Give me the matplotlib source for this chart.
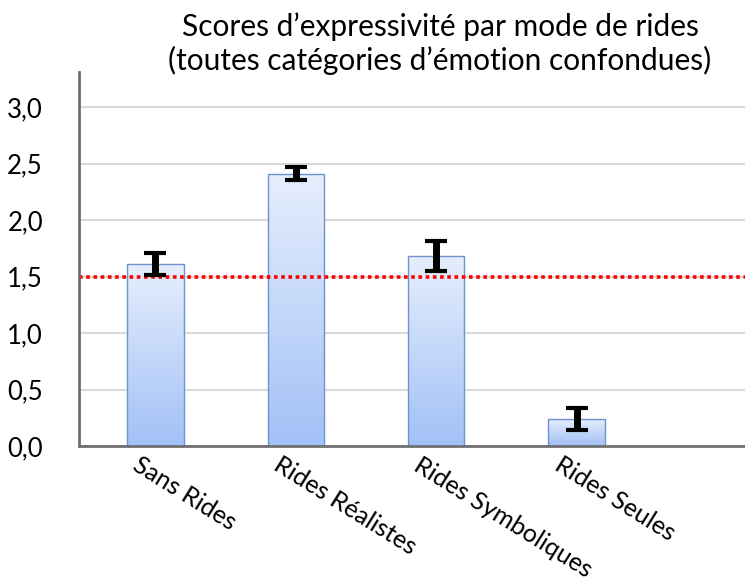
import numpy as np
import matplotlib.pyplot as plt
from matplotlib.colors import LinearSegmentedColormap
from matplotlib.transforms import blended_transform_factory, offset_copy

categories = ['Sans Rides', 'Rides Réalistes', 'Rides Symboliques', 'Rides Seules']
scores = [1.61, 2.41, 1.68, 0.24]
errors = [0.10, 0.06, 0.135, 0.095]
threshold = 1.5
yticks = [0.0, 0.5, 1.0, 1.5, 2.0, 2.5, 3.0]
ytick_labels = ['0,0', '0,5', '1,0', '1,5', '2,0', '2,5', '3,0']
title = 'Scores d’expressivité par mode de rides\n(toutes catégories d’émotion confondues)'

plt.rcParams['font.family'] = ['Lato', 'DejaVu Sans']

fig = plt.figure(figsize=(7.45, 5.81), dpi=100)
ax = fig.add_axes([79 / 745, 1 - 446 / 581, 1 - 79 / 745, (446 - 72) / 581])

x = np.arange(len(categories))
width = 0.4
cmap = LinearSegmentedColormap.from_list('bar', ['#a2c1f6', '#e6eefd'])
grad = np.linspace(0, 1, 256).reshape(-1, 1)

bars = ax.bar(x, scores, width, facecolor='none', edgecolor='#6e93cc',
              linewidth=1.0, zorder=3)
for b in bars:
    im = ax.imshow(grad, cmap=cmap, origin='lower', aspect='auto',
                   extent=[b.get_x(), b.get_x() + b.get_width(), 0, b.get_height()],
                   zorder=2)
    im.set_clip_path(b)

ax.errorbar(x, scores, yerr=errors, fmt='none', ecolor='black',
            elinewidth=5, capsize=8, capthick=3, zorder=5)

ax.axhline(threshold, color='red', linestyle=(0, (1, 1)), linewidth=2.6, zorder=4)

ax.set_xlim(-0.545, 4.2)
ax.set_ylim(0, 3.31)
ax.set_yticks(yticks)
ax.set_yticklabels(ytick_labels, fontsize=18.5)
ax.set_xticks([])
ax.tick_params(axis='y', length=0, pad=26)
ax.grid(axis='y', color='#d9d9d9', linewidth=1.5, zorder=0)
ax.set_axisbelow(True)
for s in ['top', 'right']:
    ax.spines[s].set_visible(False)
for s in ['left', 'bottom']:
    ax.spines[s].set_color('#707070')
    ax.spines[s].set_linewidth(2)
    ax.spines[s].set_zorder(6)

trans = blended_transform_factory(ax.transData, ax.transAxes)
trans = offset_copy(trans, fig=fig, x=-14, y=-7, units='dots')
for xi, lab in zip(x, categories):
    ax.text(xi, 0, lab, transform=trans, rotation=-32, rotation_mode='anchor',
            ha='left', va='top', fontsize=18)

fig.text(440 / 745, 1 - 44 / 581, title, ha='center', va='center',
         fontsize=21.5, linespacing=1.2)

fig.savefig('out.png', dpi=100)
